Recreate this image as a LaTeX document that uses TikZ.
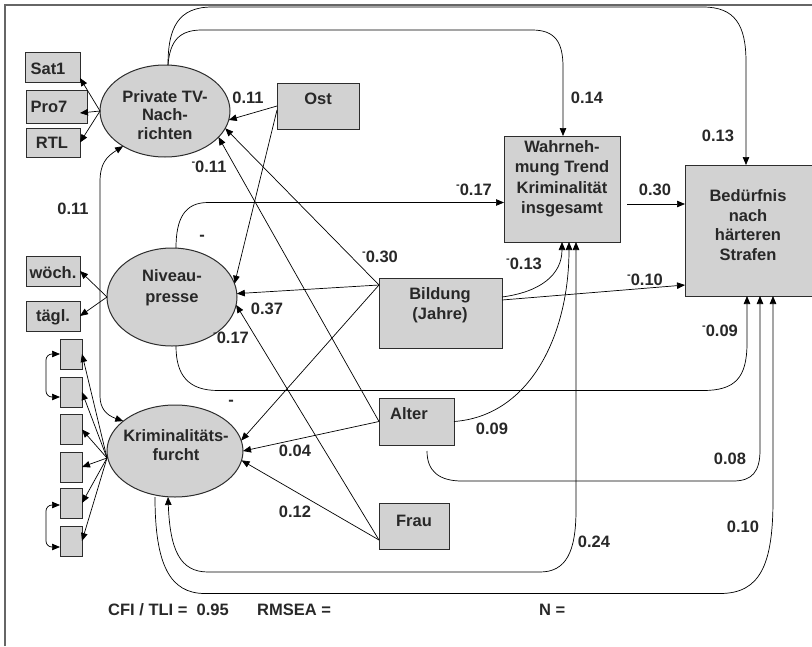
\documentclass[tikz,border=0pt]{standalone}
\usepackage{fontspec}
\setmainfont{Liberation Sans}
\usetikzlibrary{arrows.meta,shapes.geometric}
\definecolor{boxfill}{RGB}{210,210,210}
\definecolor{txtc}{RGB}{40,40,40}
\definecolor{edgec}{RGB}{45,45,45}
\newcommand\supminus{\raisebox{0.42em}{\fontsize{11}{11}\selectfont -}}
\begin{document}
\begin{tikzpicture}[x=1pt,y=-1pt,
 box/.style={draw=edgec,fill=boxfill,line width=1pt,inner sep=0pt,outer sep=0pt},
 lat/.style={ellipse,draw=edgec,fill=boxfill,line width=1pt,inner sep=0pt,outer sep=0pt},
 txt/.style={font=\fontsize{16.5}{19.5}\selectfont\bfseries,text=txtc,align=center,inner sep=0pt},
 arr/.style={-{Triangle[length=8pt,width=6.5pt]},line width=0.7pt},
 darr/.style={{Triangle[length=8pt,width=6.5pt]}-{Triangle[length=8pt,width=6.5pt]},line width=0.7pt}]
\useasboundingbox (0,0) rectangle (812,646);
\draw[line width=1.5pt,draw=black!60] (5,646) -- (5,5) -- (812,5);

% latent variables
\node[lat,minimum width=130pt,minimum height=92pt] (ptv) at (165,111) {};
\node[lat,minimum width=130pt,minimum height=98pt] (niv) at (172,297) {};
\node[lat,minimum width=136pt,minimum height=92pt] (krim) at (175,451) {};
% indicator boxes
\node[box,minimum width=55pt,minimum height=30pt] (sat) at (52.5,67) {};
\node[box,minimum width=61pt,minimum height=33pt] (pro) at (56.5,106.5) {};
\node[box,minimum width=54pt,minimum height=29pt] (rtl) at (53,142.5) {};
\node[box,minimum width=54pt,minimum height=30pt] (woch) at (53,271) {};
\node[box,minimum width=54pt,minimum height=30pt] (tagl) at (53,316) {};
\foreach \n/\yy in {1/354,2/392,3/429.5,4/467,5/503,6/541}
  \node[box,minimum width=22pt,minimum height=30pt] (k\n) at (71,\yy) {};
% manifest boxes
\node[box,minimum width=82pt,minimum height=46pt] (ost) at (318,106) {};
\node[box,minimum width=123pt,minimum height=70pt] (bild) at (440.5,313) {};
\node[box,minimum width=75pt,minimum height=47pt] (alter) at (416.5,421.5) {};
\node[box,minimum width=70pt,minimum height=46pt] (frau) at (414,526) {};
\node[box,minimum width=116pt,minimum height=106pt] (wahr) at (562,189) {};
\node[box,minimum width=130pt,minimum height=131pt] (bed) at (750,230.5) {};

% texts
\node[txt,font=\fontsize{16.5}{18.3}\selectfont\bfseries] (tptv) at (165,115) {Private TV-\\Nach-\\richten};
\node[txt,font=\fontsize{16.5}{21}\selectfont\bfseries] (tniv) at (172,288) {Niveau-\\presse};
\node[txt] (tkrim) at (176,445) {Kriminalitäts-\\furcht};
\node[txt] (tsat) at (48,69) {Sat1};
\node[txt] (tpro) at (49,107) {Pro7};
\node[txt] (trtl) at (52,143) {RTL};
\node[txt] (twoch) at (53,273) {wöch.};
\node[txt] (ttagl) at (53,317) {tägl.};
\node[txt] (tost) at (318,99) {Ost};
\node[txt] (tbild) at (440,305) {Bildung\\(Jahre)};
\node[txt] (talter) at (409,414) {Alter};
\node[txt] (tfrau) at (414,521) {Frau};
\node[txt,font=\fontsize{16.5}{20.5}\selectfont\bfseries] (twahr) at (562,179) {Wahrneh-\\mung Trend\\Kriminalität\\insgesamt};
\node[txt] (tbed) at (748,225) {Bedürfnis\\nach\\härteren\\Strafen};

% measurement arrows
\draw[arr] (ptv.west) -- ([yshift=-11pt]sat.east);
\draw[arr] (ptv.west) -- ([xshift=-7pt,yshift=-6.5pt]pro.east);
\draw[arr] (ptv.west) -- (rtl.east);
\draw[arr] (niv.west) -- (woch.east);
\draw[arr] (niv.west) -- (tagl.east);
\foreach \n in {1,...,6}
  \draw[arr] ([yshift=-7pt]krim.west) -- (k\n.east);
\draw[darr,rounded corners=6pt] (k1.west) -| ([xshift=-14pt,yshift=-5pt]k2.west) -- ([yshift=-5pt]k2.west);
\draw[darr,rounded corners=6pt] ([yshift=-2pt]k5.west) -| ([xshift=-14pt,yshift=-6pt]k6.west) -- ([yshift=-6pt]k6.west);

% correlation Private TV <-> Kriminalitaetsfurcht
\draw[darr] (ptv.220) .. controls (106,157) and (100,164) .. (100,182) -- (100,396) .. controls (100,408) and (106,415) .. (krim.150);

% top curves
\draw[arr] ([xshift=3pt]ptv.north) .. controls (168,28) and (178,7) .. (212,7) -- (703,7) .. controls (735,7) and (746,25) .. (746,62) -- ([xshift=-4pt]bed.north);
\draw[arr] ([xshift=3pt]ptv.north) .. controls (170,40) and (180,30) .. (202,30) -- (532,30) .. controls (555,30) and (563,42) .. (563,67) -- ([xshift=1pt]wahr.north);

% Niveaupresse paths
\draw[arr] ([xshift=4pt]niv.north) .. controls (176,218) and (185,202.5) .. (208,202.5) -- ([yshift=-13.5pt]wahr.west);
\draw[arr] ([xshift=4pt]niv.south) .. controls (176,375) and (188,390.5) .. (218,390.5) -- (703,390.5) .. controls (735,390.5) and (747,378) .. (747,343) -- ([xshift=-3pt]bed.south);

% Alter / Krim to Beduerfnis
\draw[arr] ([xshift=10.5pt,yshift=-6pt]alter.south) .. controls (427,472) and (440,481) .. (462,481) -- (733,481) .. controls (752,481) and (760,472) .. (760,450) -- ([xshift=10pt]bed.south);
\draw[arr] ([xshift=-20pt]krim.south) .. controls (155,565) and (170,593.5) .. (205,593.5) -- (720,593.5) .. controls (760,593.5) and (773,565) .. (773,500) -- ([xshift=23pt]bed.south);
\draw[darr] ([xshift=-7pt]krim.south) .. controls (170,550) and (180,572) .. (208,572) -- (540,572) .. controls (566,572) and (576,552) .. (576,510) -- ([xshift=14pt]wahr.south);

% to Wahrnehmung / Beduerfnis
\draw[arr] ([yshift=16pt]bild.east) .. controls (540,292) and (562,275) .. (wahr.south);
\draw[arr] (alter.east) .. controls (530,416) and (569,335) .. ([xshift=7pt]wahr.south);
\draw[arr] ([yshift=13pt]bild.east) -- ([yshift=-54.5pt]bed.west);
\draw[arr] ([xshift=7pt,yshift=-15pt]wahr.east) -- ([yshift=26.5pt]bed.west);

% straight paths to latent variables
\draw[arr] ([yshift=-7pt]bild.north west) -- (ptv.-16);
\draw[arr] ([yshift=-7pt]bild.north west) -- (niv.3);
\draw[arr] ([yshift=-7pt]bild.north west) -- (krim.9);
\draw[arr] (ost.west) -- (ptv.-8);
\draw[arr] ([yshift=-4pt]ost.west) -- (niv.12);
\draw[arr] (alter.west) -- (ptv.-26);
\draw[arr] (alter.west) -- (krim.0);
\draw[arr] ([yshift=-14pt]frau.west) -- (niv.-7);
\draw[arr] ([yshift=-14pt]frau.west) -- (krim.-8);

% coefficients
\node[txt] (c1) at (248,98) {0.11};
\node[txt] (c2) at (209,167) {\supminus0.11};
\node[txt] (c3) at (73,209) {0.11};
\node[txt] (c4) at (587,98) {0.14};
\node[txt] (c5) at (718,136) {0.13};
\node[txt] (c6) at (474,190) {\supminus0.17};
\node[txt] (c7) at (655,190) {0.30};
\node[txt] (c8) at (202,238) {-};
\node[txt] (c9) at (380,257) {\supminus0.30};
\node[txt] (c10) at (524,264) {\supminus0.13};
\node[txt] (c11) at (645,280) {\supminus0.10};
\node[txt] (c12) at (267,309) {0.37};
\node[txt] (c13) at (231,338) {\supminus0.17};
\node[txt] (c14) at (231,403) {-};
\node[txt] (c15) at (295,451) {0.04};
\node[txt] (c16) at (295,512) {0.12};
\node[txt] (c17) at (492,429) {0.09};
\node[txt] (c18) at (720,331) {\supminus0.09};
\node[txt] (c19) at (730,459) {0.08};
\node[txt] (c20) at (594,542) {0.24};
\node[txt] (c21) at (743,527) {0.10};
\node[txt,anchor=west] (fit1) at (108,610) {CFI / TLI =\ \ 0.95};
\node[txt,anchor=west] (fit2) at (257,610) {RMSEA =};
\node[txt,anchor=west] (fit3) at (539,610) {N =};
\end{tikzpicture}
\end{document}
